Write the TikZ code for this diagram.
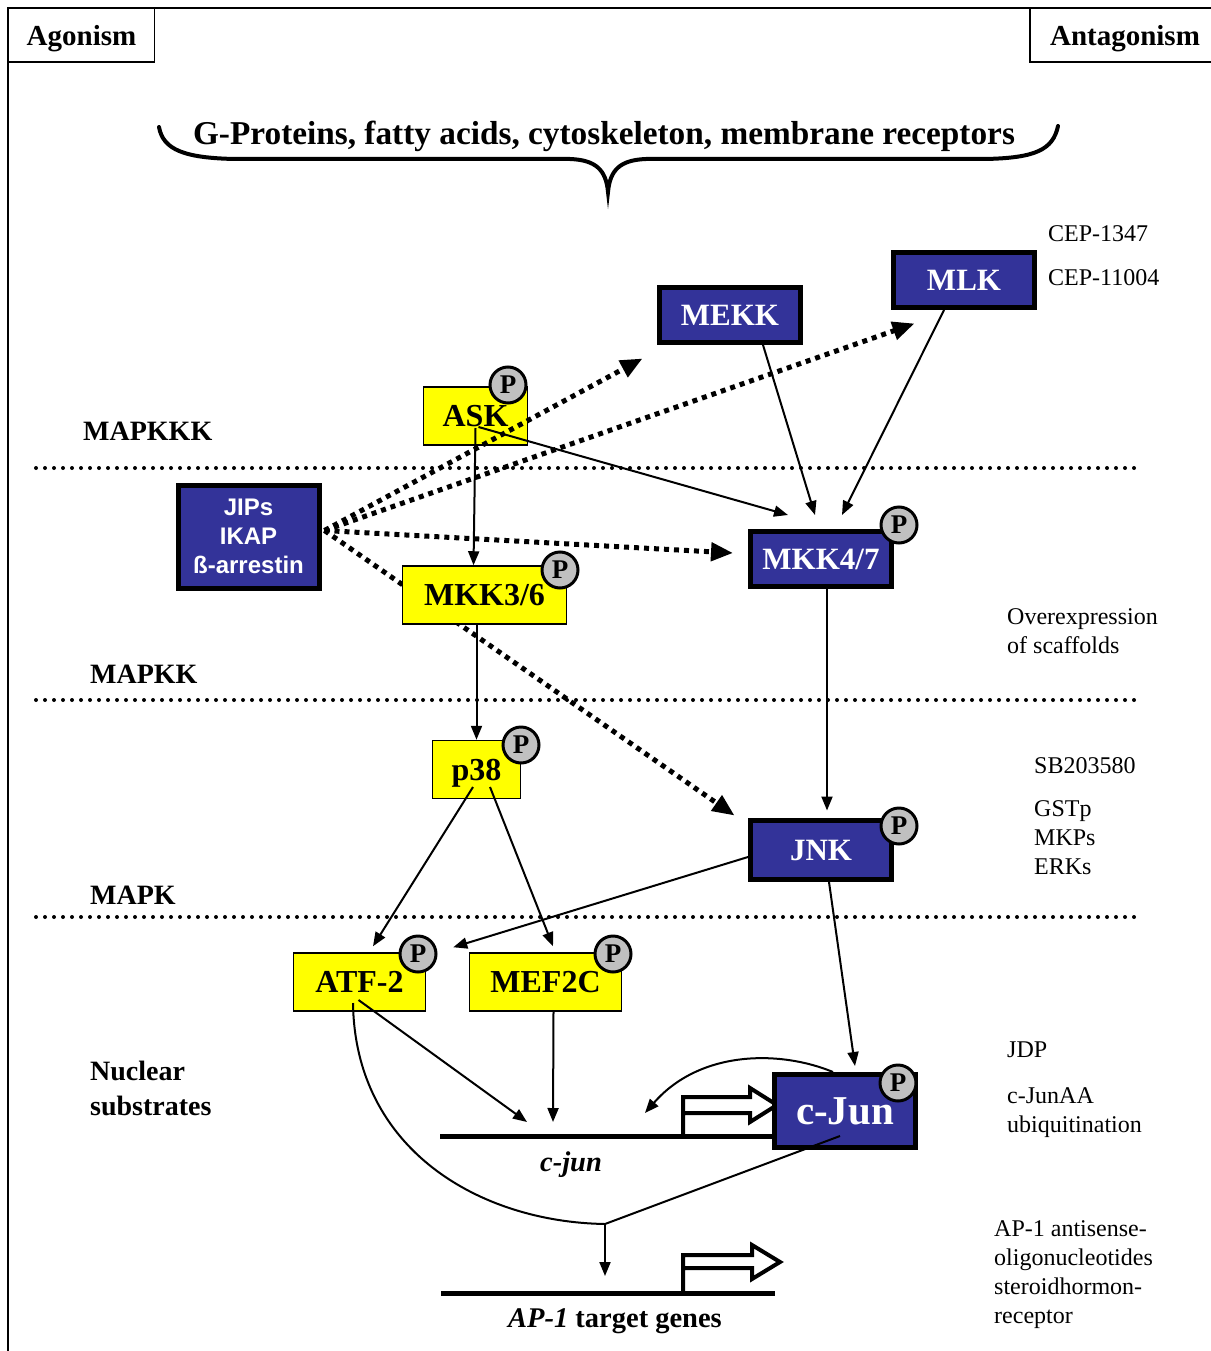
\documentclass[tikz,border=0pt]{standalone}
\usepackage{fontspec}
\setmainfont{Liberation Serif}
\newfontfamily\scaffoldfont{Liberation Sans}
\definecolor{kinaseblue}{HTML}{333399}
\definecolor{kinaseyellow}{HTML}{FFFF00}
\definecolor{phosgray}{HTML}{C0C0C0}
\usetikzlibrary{arrows.meta}

\begin{document}
\begin{tikzpicture}[x=1pt, y=-1pt,
				header/.style={draw=black, line width=1.5pt, minimum height=54pt, inner sep=0pt, text depth=0pt, font=\fontsize{29}{34}\selectfont\bfseries},
				bluebox/.style={draw=black, fill=kinaseblue, text=white, line width=5pt, minimum width=141pt, minimum height=55pt, inner sep=0pt, text depth=0pt, font=\fontsize{31}{36}\selectfont\bfseries},
				yellowbox/.style={draw=black, fill=kinaseyellow, line width=1.5pt, minimum height=58pt, inner sep=0pt, text depth=0pt, font=\fontsize{32}{38}\selectfont\bfseries},
				phos/.style={circle, draw=black, fill=phosgray, line width=3pt, minimum size=36pt, inner sep=0pt, font=\fontsize{27}{30}\selectfont\bfseries},
				arrow/.style={-{Triangle[length=14pt,width=11pt]}, line width=2pt},
				link/.style={line width=2pt},
				scaffold/.style={-{Triangle[length=22pt,width=18pt]}, line width=5pt, dash pattern=on 5pt off 5pt},
				level/.style={anchor=base west, inner sep=0pt, font=\fontsize{28}{35}\selectfont\bfseries},
				drug/.style={anchor=north west, align=left, inner sep=0pt, font=\fontsize{24}{29}\selectfont},
				sep/.style={line width=4pt, dash pattern=on 0pt off 9pt, line cap=round},
				gene/.style={line width=5pt},
				promoter/.style={line width=4pt, miter limit=10}
			]
			\fill[white] (0,0) rectangle (1210,1351);
			\useasboundingbox (0,0) rectangle (1210,1351);

			\draw[line width=2pt] (8,1360) -- (8,8) -- (1220,8);
			\node[header, minimum width=146pt] (agon) at (81.5,35) {Agonism};
			\node[header, minimum width=190pt] (antagon) at (1125,35) {Antagonism};

			\draw[line width=4pt, line cap=round] (159,127) .. controls (163,150) and (185,158) .. (235,159) -- (570,159) .. controls (596,160) and (606,170) .. (608,192) .. controls (610,170) and (620,160) .. (646,159) -- (985,159) .. controls (1035,158) and (1053,150) .. (1058,126);
			\node[anchor=base, font=\fontsize{33.3}{38}\selectfont\bfseries] (inputs) at (604,145) {G-Proteins, fatty acids, cytoskeleton, membrane receptors};

			\draw[sep] (36,468) -- (1140,468);
			\draw[sep] (36,700) -- (1140,700);
			\draw[sep] (36,917) -- (1140,917);

			\node[level] (mapkkk) at (83,440) {MAPKKK};
			\node[level] (mapkk) at (90,683) {MAPKK};
			\node[level] (mapk) at (90,904) {MAPK};
			\node[level, anchor=north west, align=left] (nuclear) at (90,1061) {Nuclear\\substrates};

			\node[drug] (cep1) at (1048,225) {CEP-1347};
			\node[drug] (cep2) at (1048,269) {CEP-11004};
			\node[drug] (scaf) at (1007,608) {Overexpression\\of scaffolds};
			\node[drug] (sb) at (1034,757) {SB203580};
			\node[drug] (gstp) at (1034,800) {GSTp\\MKPs\\ERKs};
			\node[drug] (jdp) at (1007,1042) {JDP};
			\node[drug] (junaa) at (1007,1087) {c-JunAA\\ubiquitination};
			\node[drug] (antisense) at (994,1220) {AP-1 antisense-\\oligonucleotides\\steroidhormon-\\receptor};

			\node[bluebox] (mekk) at (730,315) {MEKK};
			\node[bluebox] (mlk) at (964,280) {MLK};
			\node[yellowbox, minimum width=104pt] (ask) at (475.5,416) {ASK};
			\node[phos] (pask) at (508,385) {P};
			\node[bluebox, minimum height=103pt, align=center, text depth=, font=\scaffoldfont\fontsize{24}{29}\selectfont\bfseries] (jips) at (248.5,536.5) {JIPs\\IKAP\\ß-arrestin};
			\node[bluebox] (mkk47) at (821,559) {MKK4/7};
			\node[phos] (pmkk47) at (899,525) {P};
			\node[bluebox, minimum height=59pt] (jnk) at (821,850) {JNK};
			\node[phos] (pjnk) at (899,826) {P};

			\draw[scaffold] ([xshift=3pt,yshift=6pt]jips.east) -- ([xshift=-14.5pt,yshift=-13.5pt]mekk.south west);
			\draw[scaffold] ([xshift=3pt,yshift=6pt]jips.east) -- ([xshift=23.5pt,yshift=-13.5pt]mlk.south west);
			\draw[scaffold] ([xshift=3pt,yshift=6pt]jips.east) -- ([xshift=-15pt,yshift=6pt]mkk47.west);
			\draw[scaffold] ([xshift=3pt,yshift=6pt]jips.east) -- ([xshift=-13.5pt,yshift=2.5pt]jnk.north west);

			\node[yellowbox, minimum width=164pt] (mkk36) at (484.5,595) {MKK3/6};
			\node[phos] (pmkk36) at (560,570) {P};
			\node[yellowbox, minimum width=88pt] (p38) at (476.5,769.5) {p38};
			\node[phos] (pp38) at (521,745) {P};
			\node[yellowbox, minimum width=132pt] (atf2) at (359.5,982) {ATF-2};
			\node[phos] (patf2) at (418,954) {P};
			\node[yellowbox, minimum width=152pt] (mef2c) at (545.5,982) {MEF2C};
			\node[phos] (pmef2c) at (613,954) {P};

			\draw[gene] (440,1136) -- (773,1136);
			\draw[promoter] (683,1136) -- (683,1097) -- (750,1097) -- (750,1088) -- (777,1105) -- (750,1122) -- (750,1113) -- (683,1113);
			\node[anchor=base, font=\fontsize{28.5}{34}\selectfont\bfseries\itshape] (cjungene) at (571,1171) {c-jun};
			\draw[gene] (441,1293) -- (775,1293);
			\draw[promoter] (683,1293) -- (683,1255) -- (752,1255) -- (752,1245) -- (780,1262) -- (752,1279) -- (752,1268) -- (683,1268);
			\node[anchor=base, font=\fontsize{28.5}{34}\selectfont\bfseries] (ap1genes) at (615,1327) {\textit{AP-1} target genes};

			\node[bluebox, minimum height=73pt, font=\fontsize{41}{48}\selectfont\bfseries] (cjun) at (845,1111) {c-Jun};
			\node[phos] (pcjun) at (898,1083) {P};

			\coordinate (atfsite) at (527,1122);
			\coordinate (mefsite) at (553,1122);
			\coordinate (autosite) at (645,1113);
			\coordinate (ap1) at (605,1224);
			\coordinate (ap1site) at (605,1276);

			\draw[arrow] ([yshift=-12pt]ask.center) -- ([xshift=-11pt]mkk36.north);
			\draw[arrow] ([xshift=3pt,yshift=-11pt]ask.center) -- ([xshift=-33pt,yshift=14pt]mkk47.north);
			\draw[arrow] ([xshift=33pt]mekk.south) -- ([xshift=-6pt,yshift=14pt]mkk47.north);
			\draw[arrow] ([xshift=-20pt]mlk.south) -- ([xshift=21pt,yshift=14pt]mkk47.north);
			\draw[arrow] ([xshift=-8pt]mkk36.south) -- (p38.north);
			\draw[arrow] ([xshift=6pt]mkk47.south) -- ([xshift=6pt,yshift=7.5pt]jnk.north);
			\draw[arrow] ([xshift=-3.5pt,yshift=-17.5pt]p38.center) -- ([xshift=13.5pt,yshift=6pt]atf2.north);
			\draw[arrow] ([xshift=13.5pt,yshift=-17.5pt]p38.center) -- ([xshift=7.5pt,yshift=6pt]mef2c.north);
			\draw[arrow] ([yshift=-7pt]jnk.west) -- ([xshift=27pt,yshift=5pt]atf2.north east);
			\draw[arrow] ([xshift=8pt]jnk.south) -- ([xshift=10pt,yshift=6pt]cjun.north);
			\draw[arrow] ([xshift=-1pt,yshift=-18pt]atf2.center) -- (atfsite);
			\draw[arrow] ([xshift=8pt]mef2c.south) -- (mefsite);
			\draw[arrow] ([xshift=-12pt]cjun.north) .. controls (780,1050) and (700,1050) .. (autosite);
			\draw[link] ([xshift=-6.5pt,yshift=-21pt]atf2.center) .. controls (355,1150) and (480,1222) .. (ap1);
			\draw[link] ([xshift=-5pt,yshift=-25pt]cjun.center) -- (ap1);
			\draw[arrow] (ap1) -- (ap1site);
		\end{tikzpicture}
\end{document}
